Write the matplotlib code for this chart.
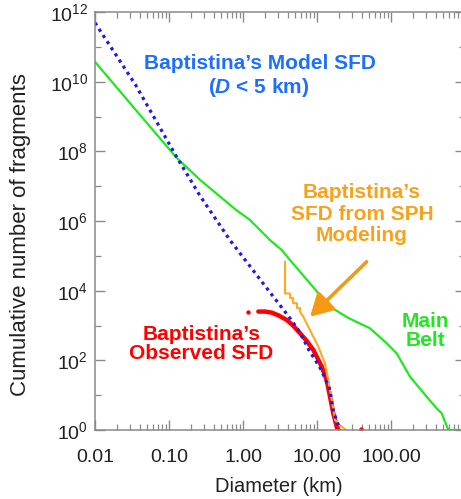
import numpy as np
import matplotlib
matplotlib.use('Agg')
import matplotlib.pyplot as plt

plt.rcParams['font.family'] = ['Liberation Sans', 'DejaVu Sans']
plt.rcParams['mathtext.fontset'] = 'custom'
plt.rcParams['mathtext.rm'] = 'Liberation Sans'
plt.rcParams['mathtext.it'] = 'Liberation Sans:italic:bold'
plt.rcParams['mathtext.bf'] = 'Liberation Sans:bold'

# Baptistina model SFD (log10 D [km], log10 N)
model_logd = [-2.0, -1.45, -0.9, -0.58, -0.176, 0.3, 0.635, 0.77, 0.89, 1.06, 1.176, 1.216, 1.31]
model_logn = [11.69, 9.9, 7.85, 6.72, 5.45, 4.13, 3.21, 2.8, 2.30, 1.72, 1.15, 0.57, 0.0]

# Main belt SFD
belt_logd = [-2.0, -1.45, -0.9, -0.58, -0.095, 0.095, 0.365, 0.523, 0.635, 0.905, 1.176,
             1.42, 1.716, 1.942, 2.077, 2.257, 2.482, 2.618, 2.685, 2.774, 3.0]
belt_logn = [10.57, 9.19, 7.82, 7.18, 6.32, 6.03, 5.45, 5.17, 4.88, 4.21, 3.54,
             3.22, 2.92, 2.49, 2.20, 1.53, 0.955, 0.62, 0.48, 0.0, 0.0]

# Observed Baptistina SFD
obs_logd = [0.207, 0.300, 0.388, 0.480, 0.591, 0.680, 0.770, 0.860, 0.950, 1.064, 1.131,
            1.176, 1.220, 1.266, 1.284]
obs_logn = [3.40, 3.40, 3.37, 3.29, 3.16, 2.99, 2.78, 2.56, 2.30, 1.82, 1.43,
            0.955, 0.48, 0.09, 0.0]
obs_extra_logd = [0.072, 1.595]
obs_extra_logn = [3.40, 0.02]

# SPH modeling SFD
sph_logd = [0.568, 0.568, 0.635, 0.635, 0.676, 0.676, 0.730, 0.730, 0.770, 0.770,
            0.815, 0.905, 1.018, 1.108, 1.153, 1.199, 1.243, 1.311, 1.392]
sph_logn = [4.83, 3.92, 3.92, 3.79, 3.79, 3.64, 3.64, 3.50, 3.50, 3.39,
            3.25, 2.87, 2.39, 1.91, 1.43, 0.86, 0.29, 0.14, 0.0]

xtick_vals = [0.01, 0.1, 1, 10, 100, 1000]
xtick_labels = ['0.01', '0.10', '1.00', '10.00', '100.00', '']

blue_line = '#1a1aee'
blue_text = '#1f6fff'
green = '#22e622'
red = '#ff0000'
orange = '#ffaa22'
orange_text = '#f8a21c'


def p(v):
    return 10.0 ** np.array(v)


fig = plt.figure(figsize=(4.61, 4.99), dpi=100)
ax = fig.add_axes([95 / 461, 1 - 430 / 499, 370 / 461, 418 / 499])

ax.plot(p(belt_logd), p(belt_logn), color=green, lw=1.6)
ax.plot(p(obs_logd), p(obs_logn), color=red, lw=3.2, solid_capstyle='round',
        solid_joinstyle='round')
ax.plot(p(obs_extra_logd), p(obs_extra_logn), 'o', color=red, ms=2.2)
ax.plot(p(sph_logd), p(sph_logn), color=orange, lw=1.5)
ax.plot(p(model_logd), p(model_logn), color=blue_line, lw=2.3,
        linestyle=(0, (1, 1.3)))

ax.set_xscale('log')
ax.set_yscale('log')
ax.set_xlim(0.01, 1000)
ax.set_ylim(1, 1e12)

ax.set_xticks(xtick_vals)
ax.set_xticklabels(xtick_labels)
ax.set_yticks([10.0 ** k for k in range(0, 13, 2)])
ax.set_yticklabels([r'$\mathregular{10^{%d}}$' % k for k in range(0, 13, 2)])
ax.set_yticks([10.0 ** k for k in range(1, 13, 2)], minor=True)
ax.yaxis.set_minor_formatter(plt.NullFormatter())

for s in ax.spines.values():
    s.set_color('#8a8a8a')
    s.set_linewidth(1.1)
ax.tick_params(which='both', direction='in', top=True, right=True, color='#8a8a8a')
ax.tick_params(which='major', length=7, width=1.0, labelsize=14, colors='#8a8a8a',
               labelcolor='#222222')
ax.tick_params(which='minor', length=4, width=0.9)
ax.tick_params(axis='x', which='major', pad=14)
ax.tick_params(axis='y', which='major', pad=5)

ax.set_xlabel('Diameter (km)', fontsize=14.5, color='#222222')
ax.set_ylabel('Cumulative number of fragments', fontsize=16, color='#222222')
ax.xaxis.set_label_coords(0.497, -0.112)
ax.yaxis.set_label_coords(-0.172, 0.467)

ax.text(10 ** 0.23, 10 ** 10.51, 'Baptistina\u2019s Model SFD', color=blue_text,
        fontsize=15, fontweight='bold', ha='center', va='center')
ax.text(10 ** 0.21, 10 ** 9.82, r'($\mathit{D}$ < 5 km)', color=blue_text,
        fontsize=15, fontweight='bold', ha='center', va='center')
ax.text(10 ** 1.608, 10 ** 6.2, 'Baptistina\u2019s\nSFD from SPH\nModeling', color=orange_text,
        fontsize=15, fontweight='bold', ha='center', va='center', linespacing=1.15)
ax.text(10 ** -0.56, 10 ** 2.47, 'Baptistina\u2019s\nObserved SFD', color=red,
        fontsize=15, fontweight='bold', ha='center', va='center', linespacing=1.05)
ax.text(10 ** 2.46, 10 ** 2.84, 'Main\nBelt', color=green,
        fontsize=15, fontweight='bold', ha='center', va='center', linespacing=1.05)

ax.annotate('', xy=(10 ** 0.905, 10 ** 3.25), xytext=(10 ** 1.671, 10 ** 4.83),
            arrowprops=dict(arrowstyle='-|>,head_length=0.9,head_width=0.5',
                            color='#f59a10', lw=2.6, mutation_scale=15,
                            shrinkA=0, shrinkB=0))

fig.savefig('out.png', dpi=100)
